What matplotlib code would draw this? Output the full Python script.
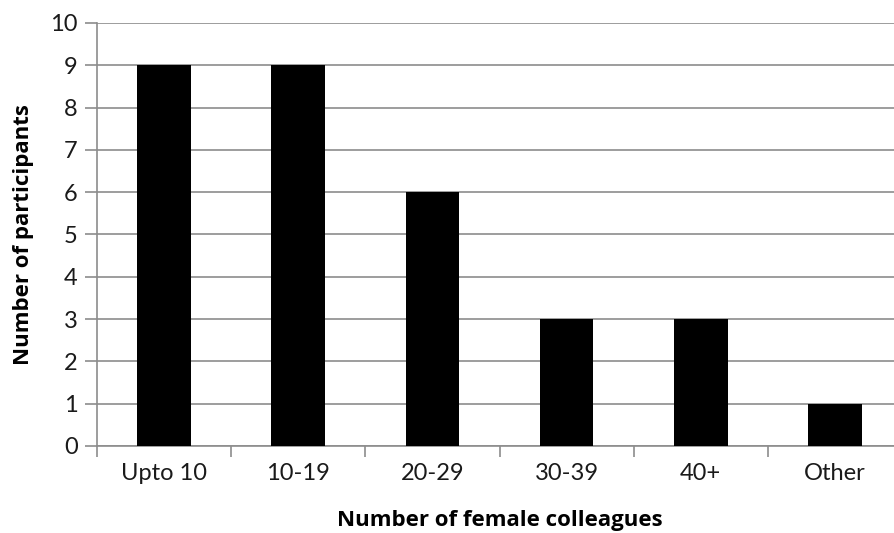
import matplotlib
matplotlib.use("Agg")
import matplotlib.pyplot as plt
import numpy as np

categories = ["Upto 10", "10-19", "20-29", "30-39", "40+", "Other"]
participants = [9, 9, 6, 3, 3, 1]
y_ticks = list(range(0, 11))

plt.rcParams['font.family'] = ['Lato', 'DejaVu Sans']

fig = plt.figure(figsize=(8.94, 5.33), dpi=100)
# axes runs slightly past the right edge of the figure
ax = fig.add_axes([97 / 894, 1 - 446 / 533, 805 / 894, 423 / 533])

x = np.arange(len(categories))
ax.bar(x, participants, width=0.4, color='black', zorder=3)

grid_col = '#8c8c8c'
ax.set_xlim(-0.5, len(categories) - 0.5)
ax.set_ylim(0, 10)
ax.set_yticks(y_ticks)
ax.yaxis.grid(True, color=grid_col, linewidth=1.2, zorder=0)

# category ticks sit on the boundaries between bars
ax.set_xticks(np.arange(len(categories) + 1) - 0.5)
ax.set_xticklabels([])
ax.set_xticks(x, minor=True)
ax.set_xticklabels(categories, minor=True, fontsize=17, color='#1a1a1a')
ax.tick_params(axis='x', which='minor', length=0, pad=12)
ax.tick_params(axis='x', which='major', length=8, color=grid_col, width=1.2)
ax.tick_params(axis='y', length=9, color=grid_col, width=1.2,
               labelsize=17, labelcolor='#1a1a1a', pad=5)

for side in ['top', 'right']:
    ax.spines[side].set_visible(False)
for side in ['left', 'bottom']:
    ax.spines[side].set_color(grid_col)
    ax.spines[side].set_linewidth(1.2)

label_font = dict(fontsize=16, fontweight='bold',
                  family=['Open Sans', 'DejaVu Sans'])
ax.set_xlabel('Number of female colleagues', **label_font)
ax.set_ylabel('Number of participants', **label_font)
ax.xaxis.set_label_coords((500 - 97) / 805, -(510 - 446) / 423)
ax.yaxis.set_label_coords(-(97 - 34) / 805, (446 - 235) / 423)

fig.savefig('out.png', dpi=100)
